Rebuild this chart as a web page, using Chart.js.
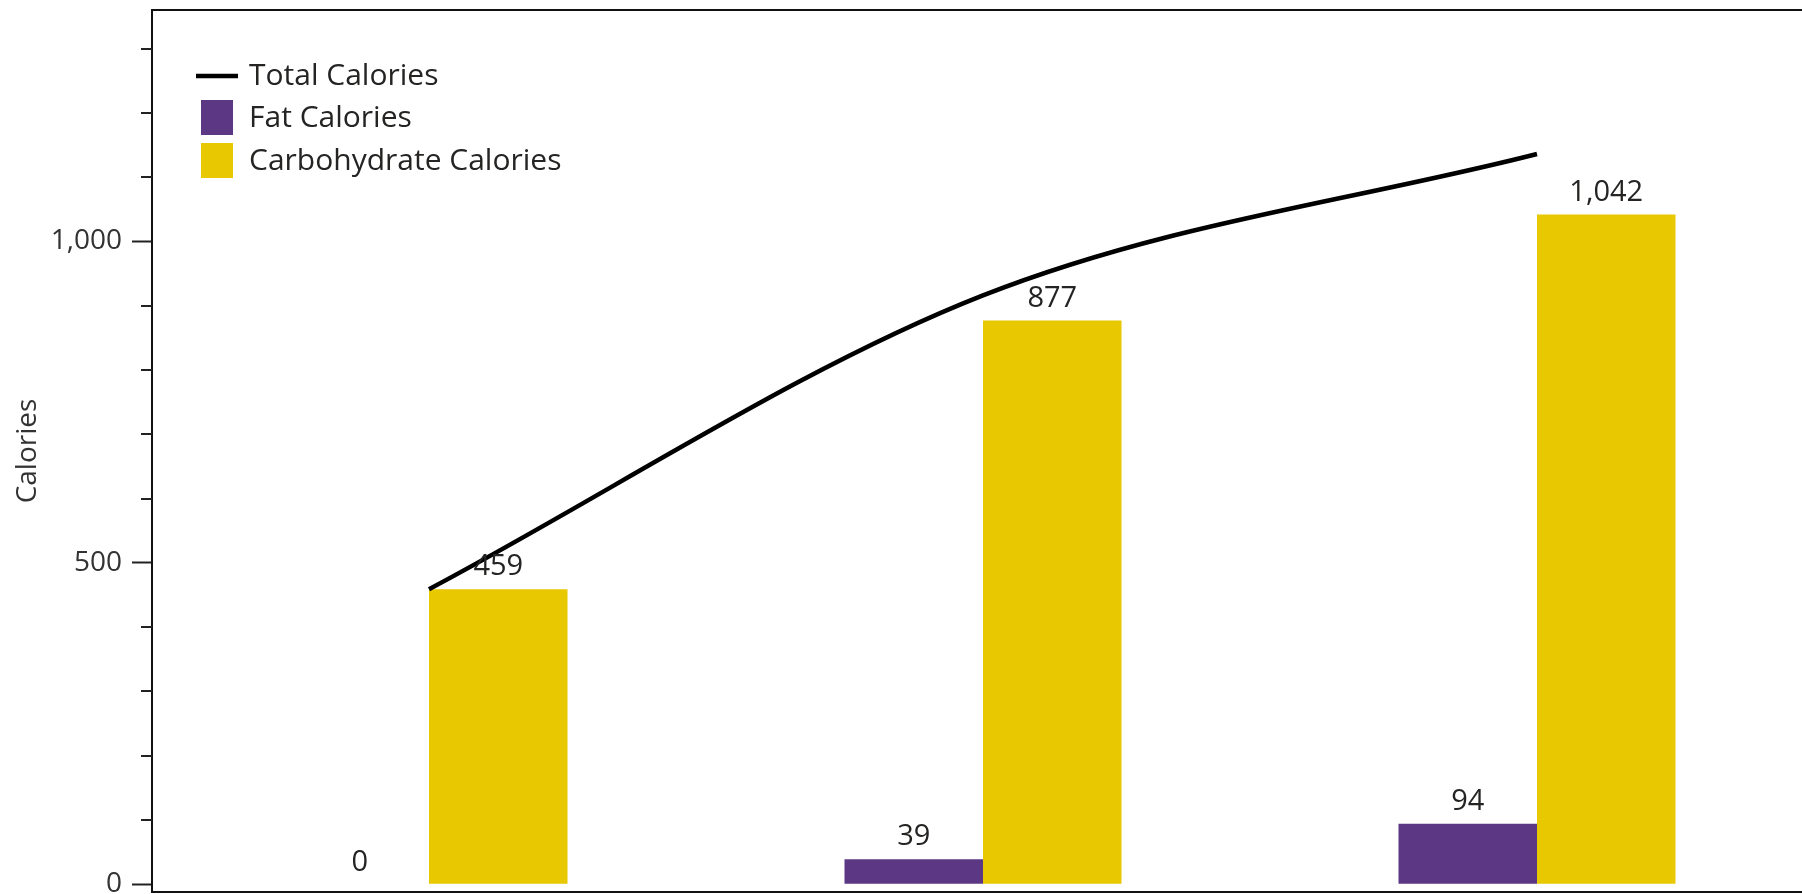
<!DOCTYPE html>
<html>
<head>
<meta charset="utf-8">
<script src="https://cdn.jsdelivr.net/npm/chart.js@4/dist/chart.umd.min.js"></script>
<style>
  html, body { margin: 0; padding: 0; background: #fff; overflow: hidden; }
  #wrap { position: absolute; left: 0; top: 0; width: 1814px; height: 894px; }
</style>
</head>
<body>
<div id="wrap"><canvas id="c" width="1814" height="894"></canvas></div>
<script>
// ---- data ----
const categories = ['Meal 1', 'Meal 2', 'Meal 3'];
const fatCalories = [0, 39, 94];
const carbCalories = [459, 877, 1042];
const totalCalories = [459, 916, 1136];
const majorTicks = [0, 500, 1000];
const minorTicks = [100, 200, 300, 400, 600, 700, 800, 900, 1100, 1200, 1300];
const seriesNames = ['Total Calories', 'Fat Calories', 'Carbohydrate Calories'];
const yTitle = 'Calories';

const PURPLE = '#5C3784';
const YELLOW = '#E8C800';
const FONT = '"Open Sans", "Noto Sans", sans-serif';
const TEXT = '#252423';

const fmt = v => v.toLocaleString('en-US');

const minorTickPlugin = {
  id: 'minorTicks',
  afterDraw(chart) {
    const y = chart.scales.y, ctx = chart.ctx;
    ctx.save();
    ctx.strokeStyle = '#222';
    ctx.lineWidth = 2;
    minorTicks.forEach(v => {
      const py = Math.round(y.getPixelForValue(v));
      ctx.beginPath();
      ctx.moveTo(y.right - 11, py);
      ctx.lineTo(y.right, py);
      ctx.stroke();
    });
    ctx.restore();
  }
};

const dataLabelPlugin = {
  id: 'dataLabels',
  afterDatasetsDraw(chart) {
    const ctx = chart.ctx;
    ctx.save();
    ctx.font = '29px ' + FONT;
    ctx.fillStyle = TEXT;
    ctx.textAlign = 'center';
    ctx.textBaseline = 'middle';
    chart.data.datasets.forEach((ds, i) => {
      if (ds.type !== 'bar') return;
      const meta = chart.getDatasetMeta(i);
      meta.data.forEach((el, j) => {
        ctx.fillText(fmt(ds.data[j]), el.x, el.y - 22);
      });
    });
    ctx.restore();
  }
};

const legendPlugin = {
  id: 'customLegend',
  afterDraw(chart) {
    const ctx = chart.ctx, a = chart.chartArea;
    const x0 = a.left + 44, tx = a.left + 97;
    const rows = [a.top + 66, a.top + 108, a.top + 151];
    ctx.save();
    ctx.strokeStyle = '#000';
    ctx.lineWidth = 4.5;
    ctx.beginPath();
    ctx.moveTo(x0, rows[0]);
    ctx.lineTo(x0 + 42, rows[0]);
    ctx.stroke();
    ctx.fillStyle = PURPLE;
    ctx.fillRect(x0 + 5, rows[1] - 18, 32, 35);
    ctx.fillStyle = YELLOW;
    ctx.fillRect(x0 + 5, rows[2] - 18, 32, 35);
    ctx.fillStyle = TEXT;
    ctx.font = '30px ' + FONT;
    ctx.textAlign = 'left';
    ctx.textBaseline = 'middle';
    seriesNames.forEach((n, i) => ctx.fillText(n, tx, rows[i]));
    ctx.restore();
  }
};

new Chart(document.getElementById('c'), {
  data: {
    labels: categories,
    datasets: [
      { type: 'line', label: seriesNames[0], data: totalCalories, borderColor: '#000', borderWidth: 4.5,
        pointRadius: 0, pointHoverRadius: 0, fill: false, cubicInterpolationMode: 'monotone', order: 0 },
      { type: 'bar', label: seriesNames[1], data: fatCalories, backgroundColor: PURPLE,
        categoryPercentage: 0.5, barPercentage: 1.0, order: 1 },
      { type: 'bar', label: seriesNames[2], data: carbCalories, backgroundColor: YELLOW,
        categoryPercentage: 0.5, barPercentage: 1.0, order: 1 }
    ]
  },
  options: {
    responsive: false,
    devicePixelRatio: 1,
    animation: false,
    layout: { padding: { top: 10, bottom: 2, left: 0, right: 0 } },
    plugins: { legend: { display: false }, tooltip: { enabled: false } },
    scales: {
      x: {
        type: 'category', offset: true,
        grid: { display: false, drawTicks: false },
        ticks: { display: false },
        border: { display: true, color: '#111', width: 2 },
        afterFit: s => { s.height = 0; s.paddingLeft = 0; s.paddingRight = 0; }
      },
      xTop: {
        type: 'category', position: 'top', labels: categories, offset: true,
        grid: { display: false, drawTicks: false },
        ticks: { display: false },
        border: { display: true, color: '#111', width: 2 },
        afterFit: s => { s.height = 0; s.paddingLeft = 0; s.paddingRight = 0; }
      },
      y: {
        min: -12, max: 1360,
        afterBuildTicks: s => { s.ticks = majorTicks.map(v => ({ value: v })); },
        afterFit: s => { s.width = 152; s.paddingTop = 0; s.paddingBottom = 0; },
        ticks: { callback: v => fmt(v), color: '#333', font: { family: FONT, size: 28 }, padding: 10 },
        grid: { display: true, drawOnChartArea: false, drawTicks: true, tickLength: 20, tickWidth: 2, tickColor: '#222' },
        border: { display: true, color: '#111', width: 2 },
        title: { display: true, text: yTitle, color: '#333', font: { family: FONT, size: 28 }, padding: { top: 11, bottom: 0 } }
      }
    }
  },
  plugins: [minorTickPlugin, dataLabelPlugin, legendPlugin]
});
</script>
</body>
</html>
